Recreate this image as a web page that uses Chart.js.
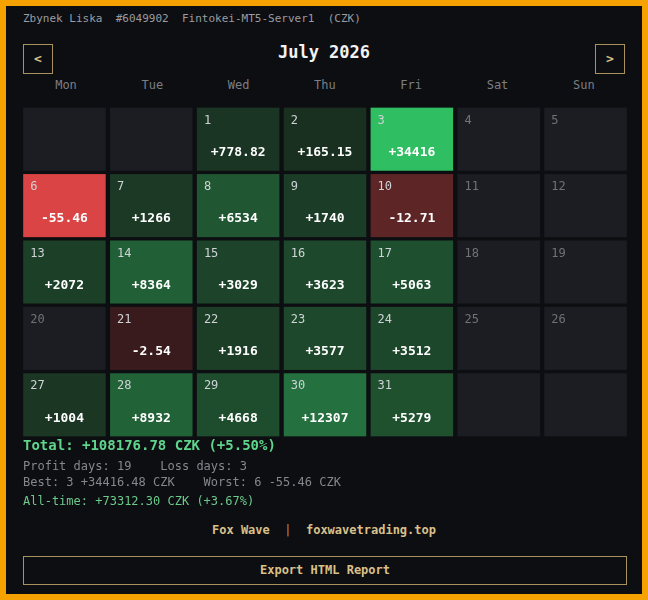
<!DOCTYPE html>
<html>
<head>
<meta charset="utf-8">
<script src="https://cdn.jsdelivr.net/npm/chart.js@4/dist/chart.umd.min.js"></script>
<style>
  html, body { margin: 0; padding: 0; background: #f5a100; }
  body { width: 648px; height: 600px; position: relative; overflow: hidden; font-family: 'DejaVu Sans Mono', monospace; }
  .panel { position: absolute; left: 6px; top: 6px; width: 636px; height: 588px; background: #0d0e11; }
  .abs { position: absolute; white-space: pre; }
  .btn { position: absolute; width: 28px; height: 28px; border: 1px solid #a8915c; color: #d9c08a; font-size: 13px; font-weight: bold; text-align: center; line-height: 28px; }
  .dow { position: absolute; top: 78px; width: 86px; text-align: center; color: #7b7e85; font-size: 12px; }
  #wrap { position: absolute; left: 21px; top: 106px; width: 608px; height: 332px; }
</style>
</head>
<body>
<div class="panel"></div>
<div class="abs" style="left:23px;top:12px;color:#9a9ca2;font-size:11px;">Zbynek Liska  #6049902  Fintokei-MT5-Server1  (CZK)</div>
<div class="btn" style="left:23px;top:44px;">&lt;</div>
<div class="btn" style="left:595px;top:44px;">&gt;</div>
<div class="abs" style="left:0;width:648px;text-align:center;top:42px;color:#f2f2f2;font-size:17px;font-weight:bold;">July 2026</div>
<div id="dows"></div>
<div id="wrap"><canvas id="cal"></canvas></div>
<div class="abs" style="left:23px;top:437px;color:#5fd48c;font-size:14px;font-weight:bold;">Total: +108176.78 CZK (+5.50%)</div>
<div class="abs" style="left:23px;top:459px;color:#85878c;font-size:12px;">Profit days: 19    Loss days: 3</div>
<div class="abs" style="left:23px;top:475px;color:#85878c;font-size:12px;">Best: 3 +34416.48 CZK    Worst: 6 -55.46 CZK</div>
<div class="abs" style="left:23px;top:494px;color:#6cc98c;font-size:12px;">All-time: +73312.30 CZK (+3.67%)</div>
<div class="abs" style="left:0;width:648px;text-align:center;top:523px;color:#d9c08a;font-size:12px;font-weight:bold;">Fox Wave  <span style="font-weight:normal;color:#a8915c">|</span>  foxwavetrading.top</div>
<div class="abs" style="left:23px;top:556px;width:602px;height:27px;border:1px solid #a8915c;color:#d9c08a;font-size:12px;font-weight:bold;text-align:center;line-height:27px;">Export HTML Report</div>
<script>
// ========== Data ==========
const weekdays = ['Mon', 'Tue', 'Wed', 'Thu', 'Fri', 'Sat', 'Sun'];
const firstWeekday = 2; // July 1 2026 is a Wednesday
const daysInMonth = 31;
const dayNumbers = [1, 2, 3, 6, 7, 8, 9, 10, 13, 14, 15, 16, 17, 21, 22, 23, 24, 27, 28, 29, 30, 31];
const dayLabels = ['+778.82', '+165.15', '+34416', '-55.46', '+1266', '+6534', '+1740', '-12.71', '+2072', '+8364', '+3029', '+3623', '+5063', '-2.54', '+1916', '+3577', '+3512', '+1004', '+8932', '+4668', '+12307', '+5279'];
const dayValues = [778.82, 165.15, 34416.48, -55.46, 1266, 6534, 1740, -12.71, 2072, 8364, 3029, 3623, 5063, -2.54, 1916, 3577, 3512, 1004, 8932, 4668, 12307, 5279];

// ========== Weekday header ==========
document.getElementById('dows').innerHTML = weekdays.map((d, i) =>
    `<div class="dow" style="left:${23 + i * 86.3}px">${d}</div>`).join('');

// ========== Build cells ==========
const cells = [];
for (let slot = 0; slot < 35; slot++) {
    const day = slot - firstWeekday + 1;
    const idx = dayNumbers.indexOf(day);
    cells.push({
        x: slot % 7 + 0.5,
        y: Math.floor(slot / 7) + 0.5,
        day: (day >= 1 && day <= daysInMonth) ? day : null,
        v: idx >= 0 ? dayValues[idx] : null,
        label: idx >= 0 ? dayLabels[idx] : ''
    });
}

const maxGain = Math.max(...dayValues);
const maxLoss = Math.min(...dayValues);
function mix(a, b, t) {
    return 'rgb(' + a.map((c, i) => Math.round(c + (b[i] - c) * t)).join(',') + ')';
}
function cellColor(v) {
    if (v === null) return '#1b1d22';
    if (v >= 0) return mix([25, 45, 31], [48, 190, 98], Math.pow(v / maxGain, 0.75));
    return mix([44, 24, 26], [218, 68, 68], Math.pow(v / maxLoss, 0.85));
}

// ========== Cell drawing plugin ==========
const cellPlugin = {
    id: 'cells',
    afterDatasetsDraw(chart) {
        const { ctx, scales: { x, y } } = chart;
        const pad = 0.025;
        ctx.save();
        cells.forEach(c => {
            const x0 = x.getPixelForValue(c.x - 0.5 + pad);
            const x1 = x.getPixelForValue(c.x + 0.5 - pad);
            const y0 = y.getPixelForValue(c.y - 0.5 + pad);
            const y1 = y.getPixelForValue(c.y + 0.5 - pad);
            ctx.fillStyle = cellColor(c.v);
            ctx.fillRect(x0, y0, x1 - x0, y1 - y0);
            if (c.day) {
                ctx.fillStyle = c.v === null ? '#6f7278' : '#cfd3d6';
                ctx.font = "12px 'DejaVu Sans Mono'";
                ctx.textAlign = 'left';
                ctx.textBaseline = 'top';
                ctx.fillText(String(c.day), x0 + 7, y0 + 7);
            }
            if (c.label) {
                ctx.fillStyle = '#ffffff';
                ctx.font = "bold 13px 'DejaVu Sans Mono'";
                ctx.textAlign = 'center';
                ctx.textBaseline = 'middle';
                ctx.fillText(c.label, (x0 + x1) / 2, y0 + 45);
            }
        });
        ctx.restore();
    }
};

new Chart(document.getElementById('cal'), {
    type: 'scatter',
    data: { datasets: [{ data: cells.map(c => ({ x: c.x, y: c.y })), pointRadius: 0 }] },
    options: {
        responsive: true,
        maintainAspectRatio: false,
        animation: false,
        layout: { padding: 0 },
        plugins: { legend: { display: false }, tooltip: { enabled: false } },
        scales: {
            x: { type: 'linear', min: 0, max: 7, display: false },
            y: { type: 'linear', min: 0, max: 5, reverse: true, display: false }
        }
    },
    plugins: [cellPlugin]
});
</script>
</body>
</html>
